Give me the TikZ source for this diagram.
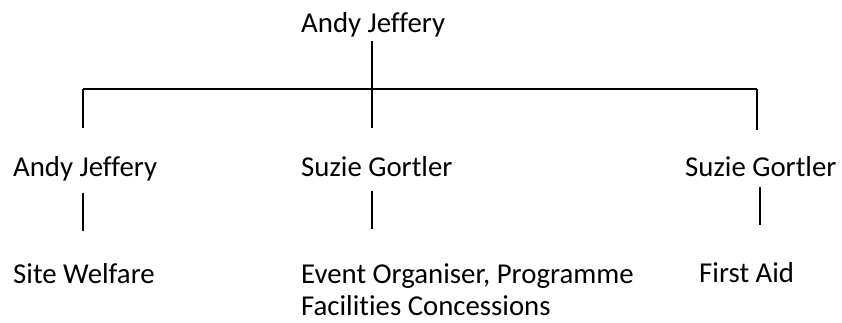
\documentclass[tikz,border=0pt]{standalone}
\usepackage{fontspec}
\setmainfont{Carlito}[RawFeature=-liga]
\begin{document}
\begin{tikzpicture}[x=1pt,y=-1pt,
  lbl/.style={anchor=base west,inner sep=0pt,font=\fontsize{28.8}{32}\selectfont},
  conn/.style={line width=1.6pt,black}]
\useasboundingbox (0,0) rectangle (842,322);
% texts
\node[lbl] (top) at (301,32) {Andy Jeffery};
\node[lbl] (aj) at (13,176) {Andy Jeffery};
\node[lbl] (sg1) at (301,176) {Suzie Gortler};
\node[lbl] (sg2) at (685,176) {Suzie Gortler};
\node[lbl] (sw) at (13,283) {Site Welfare};
\node[lbl] (eo) at (301,283) {Event Organiser, Programme};
\node[lbl] (fc) at (301,315) {Facilities Concessions};
\node[lbl] (fa) at (699,282) {First Aid};
% connector points
\coordinate (t1) at (372,41);
\coordinate (t2) at (372,89);
\coordinate (hl) at (83,89);
\coordinate (hr) at (757,89);
\coordinate (d1) at (83,128);
\coordinate (d2) at (372,128);
\coordinate (d3) at (757,130);
\coordinate (a1) at (83,193);
\coordinate (a2) at (83,231);
\coordinate (b1) at (372,191);
\coordinate (b2) at (372,229);
\coordinate (c1) at (760,187);
\coordinate (c2) at (760,225);
\draw[conn] (t1) -- (t2);
\draw[conn] (hl) -- (hr);
\draw[conn] (hl) -- (d1);
\draw[conn] (t2) -- (d2);
\draw[conn] (hr) -- (d3);
\draw[conn] (a1) -- (a2);
\draw[conn] (b1) -- (b2);
\draw[conn] (c1) -- (c2);
\end{tikzpicture}
\end{document}
